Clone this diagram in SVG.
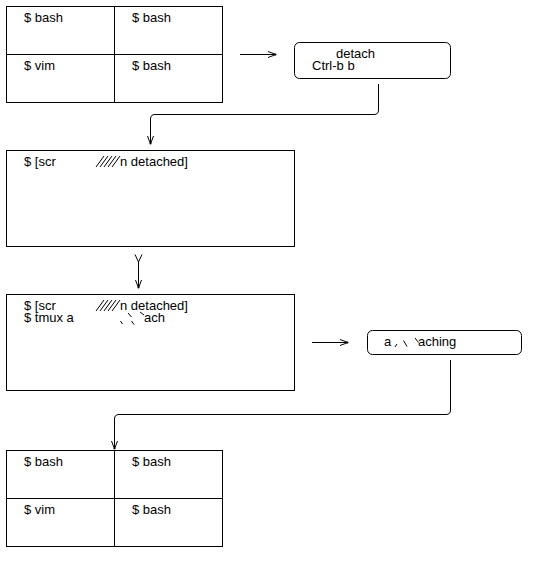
<svg xmlns="http://www.w3.org/2000/svg" width="540" height="564" viewBox="0 0 540 564">
<style>
  .box{fill:none;stroke:#000;stroke-width:1}
  .ln{fill:none;stroke:#000;stroke-width:1}
  text{font-family:"Liberation Sans",Arial,sans-serif;font-size:13px;fill:#000}
</style>
<defs>
  <marker id="ah" markerUnits="userSpaceOnUse" markerWidth="10" markerHeight="8" refX="8" refY="3.5" orient="auto" overflow="visible">
    <path d="M0,0.5 L8,3.5 L0,6.5" fill="none" stroke="#000" stroke-width="1"/>
    <circle cx="7.5" cy="3.5" r="1" fill="#000"/>
  </marker>
</defs>
<rect width="540" height="564" fill="#fff"/>

<g id="panes-top">
  <rect class="box" x="6.5" y="6.5" width="216" height="96"/>
  <line class="ln" x1="6.5" y1="54.5" x2="222.5" y2="54.5"/>
  <line class="ln" x1="114.5" y1="6.5" x2="114.5" y2="102.5"/>
  <text x="24" y="22">$ bash</text>
  <text x="132" y="22">$ bash</text>
  <text x="24" y="70">$ vim</text>
  <text x="132" y="70">$ bash</text>
</g>

<g id="detach">
  <rect class="box" x="294.5" y="42.5" width="156" height="36" rx="5"/>
  <text x="336" y="58">detach</text>
  <text x="312" y="70">Ctrl-b b</text>
</g>

<g id="detached-screen">
  <rect class="box" x="6.5" y="150.5" width="288" height="96"/>
  <text x="24" y="166">$ [scr</text>
  <g class="ln">
    <line x1="96" y1="167" x2="104" y2="156"/>
    <line x1="100" y1="167" x2="108" y2="156"/>
    <line x1="104" y1="167" x2="112" y2="156"/>
    <line x1="108" y1="167" x2="116" y2="156"/>
    <line x1="112" y1="167" x2="120" y2="156"/>
  </g>
  <text x="120" y="166">n detached]</text>
</g>

<g id="attach-screen">
  <rect class="box" x="6.5" y="294.5" width="288" height="96"/>
  <text x="24" y="310">$ [scr</text>
  <text x="24" y="322">$ tmux a</text>
  <g class="ln">
    <line x1="96" y1="311" x2="104" y2="300"/>
    <line x1="100" y1="311" x2="108" y2="300"/>
    <line x1="104" y1="311" x2="112" y2="300"/>
    <line x1="108" y1="311" x2="116" y2="300"/>
    <line x1="112" y1="311" x2="120" y2="300"/>
    <line x1="120.5" y1="321" x2="122.5" y2="324"/>
    <line x1="131.5" y1="321" x2="134" y2="324.5"/>
    <line x1="128" y1="313" x2="131.5" y2="317"/>
    <line x1="140" y1="312" x2="144" y2="315"/>
  </g>
  <text x="120" y="310">n detached]</text>
  <text x="144" y="322">ach</text>
</g>

<g id="attaching">
  <rect class="box" x="367.5" y="330.5" width="154" height="24" rx="5"/>
  <text x="384" y="346">a</text>
  <g class="ln">
    <line x1="397" y1="344" x2="395" y2="347"/>
    <line x1="403.5" y1="340.5" x2="407" y2="346.5"/>
    <line x1="415" y1="338" x2="418.5" y2="342.5"/>
  </g>
  <text x="418" y="346">aching</text>
</g>

<g id="panes-bottom">
  <rect class="box" x="6.5" y="450.5" width="216" height="96"/>
  <line class="ln" x1="6.5" y1="498.5" x2="222.5" y2="498.5"/>
  <line class="ln" x1="114.5" y1="450.5" x2="114.5" y2="546.5"/>
  <text x="24" y="466">$ bash</text>
  <text x="132" y="466">$ bash</text>
  <text x="24" y="514">$ vim</text>
  <text x="132" y="514">$ bash</text>
</g>

<g id="connectors">
  <path class="ln" d="M240,54.5 H276" marker-end="url(#ah)"/>
  <path class="ln" d="M378.5,84 V110 Q378.5,114.5 374,114.5 H155 Q150.5,114.5 150.5,119 V144" marker-end="url(#ah)"/>
  <path class="ln" d="M135,254.5 L138.5,262 L142,254.5"/>
  <path class="ln" d="M138.5,262 V288" marker-end="url(#ah)"/>
  <path class="ln" d="M312,342.5 H348" marker-end="url(#ah)"/>
  <path class="ln" d="M450.5,360 V410 Q450.5,414.5 446,414.5 H119 Q114.5,414.5 114.5,419 V449" marker-end="url(#ah)"/>
</g>
</svg>
